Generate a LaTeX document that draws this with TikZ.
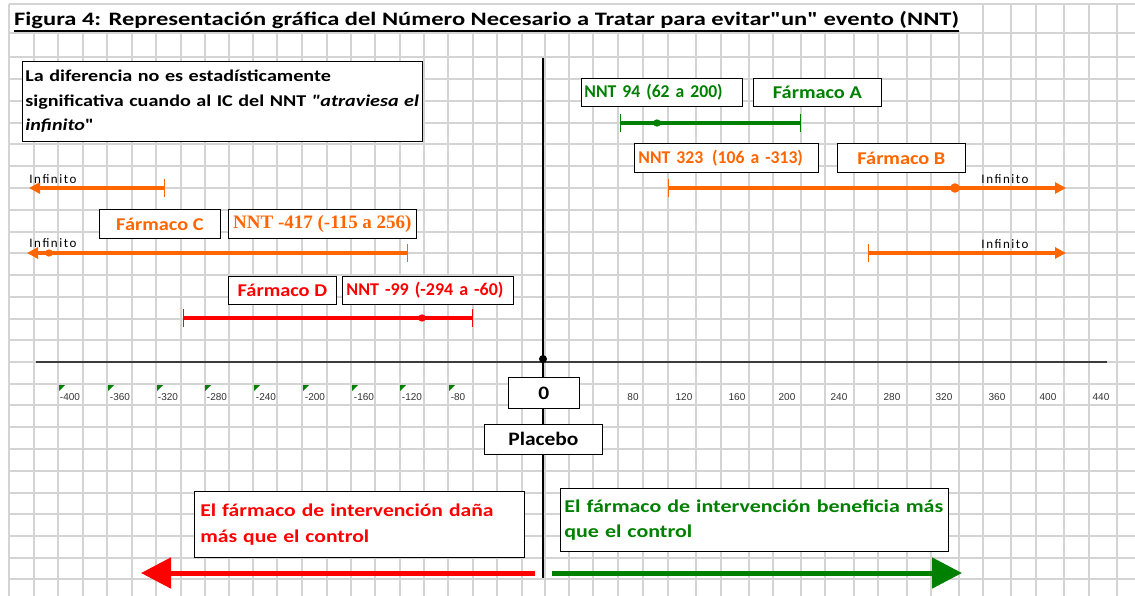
\documentclass[tikz,border=0pt]{standalone}
\usepackage{fontspec}
\setmainfont{Carlito}[Ligatures=TeXOff]
\newfontfamily\arialf{Liberation Sans}
\newfontfamily\timesf{Liberation Serif}
\usetikzlibrary{arrows.meta}
\definecolor{gridc}{RGB}{212,212,212}
\definecolor{xgreen}{RGB}{0,128,0}
\definecolor{xorange}{RGB}{255,102,0}
\definecolor{xred}{RGB}{255,0,0}
\definecolor{axisc}{RGB}{60,60,60}
\begin{document}
\begin{tikzpicture}[x=1pt,y=-1pt,
  box/.style={draw=black, fill=white, line width=0.8pt, inner sep=0pt, anchor=north west},
  lbl/.style={font=\bfseries\fontsize{18}{22}\selectfont\addfontfeature{FakeStretch=#1}},
  lbl/.default=1.13,
  inftxt/.style={font=\fontsize{13}{15}\selectfont\addfontfeature{LetterSpace=12}, text=black, inner sep=0pt},
  tickl/.style={font=\arialf\fontsize{10}{11}\selectfont, text=black!80, inner sep=0pt},
  ci/.style={line width=3.3pt},
  endtick/.style={line width=1pt},
  infarrow/.style={line width=3.5pt, -{Triangle[length=11pt,width=11pt]}},
  bigarrow/.style={line width=5pt, -{Triangle[length=30pt,width=30pt]}},
  xlsmark/.style={fill=xgreen}
]
\useasboundingbox (0,0) rectangle (1135,596);
\fill[white] (0,0) rectangle (1135,596);
% grid
\foreach \gx in {9,34,58,83,107,132,156,181,205,229,253,277,302,327,351,375,400,424,448,473,497,522,545,569,593,618,643,668,696,721,749,773,801,825,854,878,907,931,959,983,1011,1036,1064,1089,1117}
  \draw[gridc, line width=1.5pt] (\gx,4) -- (\gx,596);
\foreach \gy in {4,33,57,79,101,123,144,166,188,210,232,253,275,297,319,340,362,384,405,427,449,471,493,514,536,558,579}
  \draw[gridc, line width=1.5pt] (9,\gy) -- (1135,\gy);
% title
\fill[white] (10.5,5.5) rectangle (968,31.5);
\node[anchor=base west, inner sep=0pt, font=\bfseries\fontsize{19}{22}\selectfont\addfontfeature{FakeStretch=1.29}] (title) at (14,26)
  {Figura 4: Representación gráfica del Número Necesario a Tratar para evitar"un" evento (NNT)};
\draw[line width=1.6pt] ([yshift=-5pt]title.base west) -- ([yshift=-5pt]title.base east);

% axes
\coordinate (yTop) at (543,58);
\coordinate (yBot) at (543,578);
\coordinate (xL) at (36,362);
\coordinate (xR) at (1107,362);
\coordinate (orig) at (543,359);
\draw[axisc, line width=1.6pt] (xL) -- (xR);
\draw[black, line width=2pt] (yTop) -- (yBot);
\fill[black] (orig) circle (4pt);

% info box
\node[box, inner xsep=3pt, text width=394pt, minimum height=80pt, align=left,
      font=\bfseries\fontsize{16.5}{24.5}\selectfont\addfontfeature{FakeStretch=1.22}] (info) at (22,61)
  {La diferencia no es estadísticamente\\
   \mbox{significativa cuando al IC del NNT \textit{"atraviesa el}}\\
   \textit{infinito}"};

% Farmaco A
\node[box, lbl=0.98, text=xgreen, inner xsep=3pt, text width=155pt, align=left, minimum height=28pt] (nntA) at (581,78) {\mbox{NNT 94 (62 a 200)}};
\node[box, lbl, text=xgreen, minimum width=128pt, minimum height=28pt] (farA) at (753,78) {Fármaco A};
\coordinate (aL) at (620,123);
\coordinate (aR) at (800,123);
\coordinate (aM) at (657,123);
\draw[ci, xgreen] (aL) -- (aR);
\draw[endtick, xgreen] ([yshift=9pt]aL) -- ([yshift=-9pt]aL);
\draw[endtick, xgreen] ([yshift=9pt]aR) -- ([yshift=-9pt]aR);
\fill[xgreen] (aM) circle (3.7pt);

% Farmaco B
\node[box, lbl=0.98, text=xorange, inner xsep=4pt, text width=176pt, align=left, minimum height=29pt] (nntB) at (634,143) {\mbox{NNT 323 \,(106 a -313)}};
\node[box, lbl, text=xorange, minimum width=128pt, minimum height=29pt] (farB) at (837,143) {Fármaco B};
\coordinate (bL) at (668,188);
\coordinate (bR) at (1066,188);
\coordinate (bM) at (955,188);
\draw[infarrow, xorange] (bL) -- (bR);
\draw[endtick, xorange] ([yshift=9pt]bL) -- ([yshift=-9pt]bL);
\fill[xorange] (bM) circle (4.8pt);
\node[inftxt] (infB) at (1005,179) {Infinito};

% top-left infinite arrow
\coordinate (tlR) at (164,188);
\coordinate (tlL) at (29,188);
\draw[infarrow, xorange] (tlR) -- (tlL);
\draw[endtick, xorange] ([yshift=9pt]tlR) -- ([yshift=-9pt]tlR);
\node[inftxt] (infTL) at (53,179) {Infinito};

% Farmaco C
\node[box, lbl, text=xorange, minimum width=121pt, minimum height=29pt] (farC) at (99,209) {Fármaco C};
\node[box, text=xorange, minimum width=188pt, minimum height=29pt,
      font=\timesf\bfseries\fontsize{19}{22}\selectfont] (nntC) at (228,209) {NNT -417 (-115 a 256)};
\coordinate (cR) at (407,253);
\coordinate (cL) at (27,253);
\coordinate (cM) at (49,253);
\draw[infarrow, xorange] (cR) -- (cL);
\draw[endtick, xorange] ([yshift=9pt]cR) -- ([yshift=-9pt]cR);
\fill[xorange] (cM) circle (3.7pt);
\node[inftxt] (infC) at (53,243) {Infinito};

% second right infinite arrow
\coordinate (rL) at (868,253);
\coordinate (rR) at (1066,253);
\draw[infarrow, xorange] (rL) -- (rR);
\draw[endtick, xorange] ([yshift=9pt]rL) -- ([yshift=-9pt]rL);
\node[inftxt] (infR) at (1005,244) {Infinito};

% Farmaco D
\node[box, lbl, text=xred, minimum width=108pt, minimum height=28pt] (farD) at (228,276) {Fármaco D};
\node[box, lbl=1.0, text=xred, inner xsep=4pt, text width=163pt, align=left, minimum height=28pt] (nntD) at (342,276) {\mbox{NNT -99 (-294 a -60)}};
\coordinate (dL) at (183,318);
\coordinate (dR) at (472,318);
\coordinate (dM) at (422,318);
\draw[ci, xred] (dL) -- (dR);
\draw[endtick, xred] ([yshift=9pt]dL) -- ([yshift=-9pt]dL);
\draw[endtick, xred] ([yshift=9pt]dR) -- ([yshift=-9pt]dR);
\fill[xred] (dM) circle (3.7pt);

% tick labels (negative, stored as text)
\foreach \cx/\lx/\t in {59/70/-400,108/120/-360,157/168/-320,205/217/-280,254/266/-240,303/315/-200,352/364/-160,400/412/-120,449/458/-80}{
  \fill[xlsmark] (\cx,385) -- (\cx+6,385) -- (\cx,391) -- cycle;
  \node[tickl] at (\lx,397) {\t};
}
\foreach \lx/\t in {633/80,684/120,737/160,787/200,839/240,892/280,944/320,997/360,1048/400,1101/440}
  \node[tickl] at (\lx,397) {\t};

% zero and placebo
\node[box, minimum width=71pt, minimum height=31pt, font=\bfseries\fontsize{19}{22}\selectfont\addfontfeature{FakeStretch=1.13}] (zero) at (508,377) {0};
\node[box, minimum width=118pt, minimum height=30pt, font=\bfseries\fontsize{19}{22}\selectfont\addfontfeature{FakeStretch=1.13}] (placebo) at (484,424) {Placebo};

% bottom boxes
\node[box, inner xsep=6pt, text width=318pt, minimum height=66pt, align=left, text=xred,
      font=\bfseries\fontsize{18}{26}\selectfont\addfontfeature{FakeStretch=1.2}] (harm) at (194,491)
  {El fármaco de intervención daña\\más que el control};
\node[box, inner xsep=4pt, text width=380pt, minimum height=63pt, align=left, text=xgreen,
      font=\bfseries\fontsize{18}{25}\selectfont\addfontfeature{FakeStretch=1.22}] (benefit) at (560,488)
  {\mbox{El fármaco de intervención beneficia más}\\que el control};

% big arrows
\coordinate (redS) at (535,573);
\coordinate (redE) at (141,573);
\coordinate (grnS) at (552,573);
\coordinate (grnE) at (962,573);
\draw[bigarrow, xred] (redS) -- (redE);
\draw[bigarrow, xgreen] (grnS) -- (grnE);
\end{tikzpicture}
\end{document}
